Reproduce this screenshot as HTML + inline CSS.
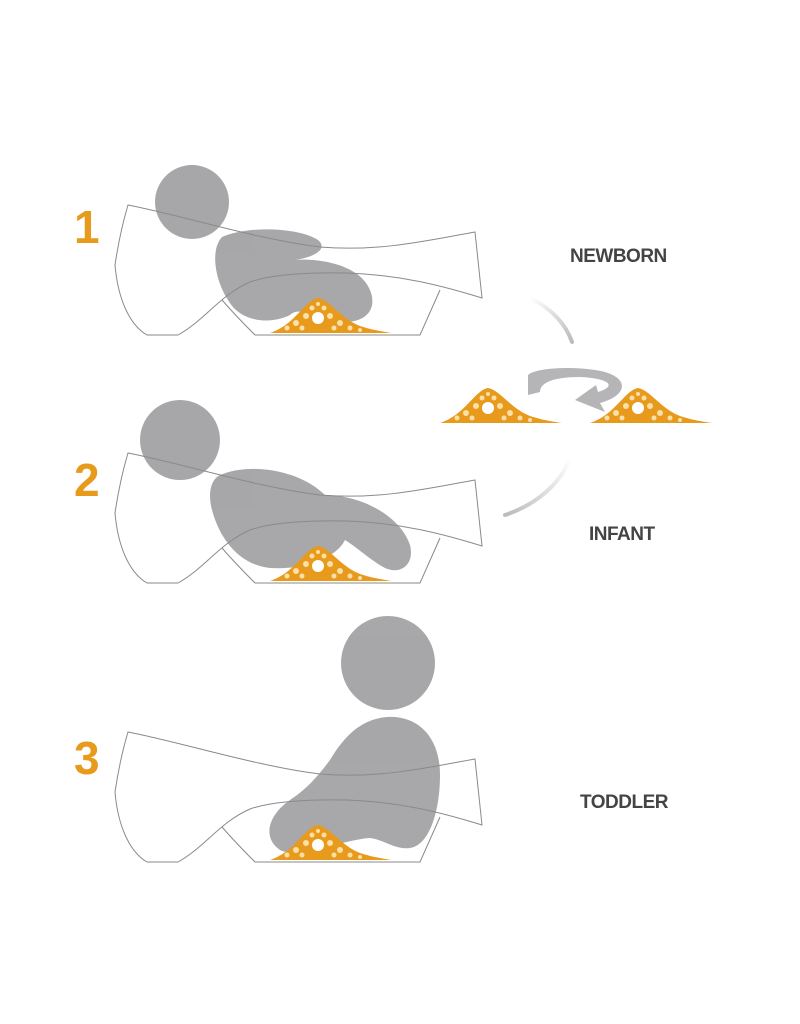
<!DOCTYPE html>
<html><head><meta charset="utf-8"><style>
html,body{margin:0;padding:0;background:#fff;}
svg{display:block}
text{font-family:"Liberation Sans",sans-serif;}
</style></head><body>
<svg width="800" height="1024" viewBox="0 0 800 1024" xmlns="http://www.w3.org/2000/svg">
<defs>
<g id="mound">
<path d="M270,333 C295,325 305,300 318,298 C330,300 340,318 360,326 C372,330 385,332 392,333 Z" fill="#e89a1c"/>
<g fill="#fbe0a8">
<circle cx="318" cy="318" r="6" fill="#fff"/>
<circle cx="306" cy="316" r="3"/><circle cx="330" cy="316" r="3"/>
<circle cx="312" cy="308" r="2.5"/><circle cx="324" cy="308" r="2.5"/><circle cx="318" cy="304" r="2"/>
<circle cx="296" cy="323" r="3"/><circle cx="340" cy="323" r="3"/>
<circle cx="287" cy="328" r="2.5"/><circle cx="350" cy="328" r="2.5"/><circle cx="360" cy="330" r="2"/>
<circle cx="302" cy="328" r="2.5"/><circle cx="334" cy="328" r="2.5"/>
</g>
</g>
<g id="tub" fill="none" stroke="#8a8a8a" stroke-width="1">
<path d="M128,205 C180,215 260,240 320,247 C380,252 430,240 475,232 L482,298 C440,285 400,275 347,273 C300,272 270,275 250,282 C220,295 205,320 178,335 L147,335 C130,325 118,300 115,265 C118,245 122,225 128,205 Z"/>
<path d="M222,300 C235,315 248,328 255,335 L420,335 L440,290"/>
</g>
<linearGradient id="ga" x1="0" y1="0" x2="1" y2="1"><stop offset="0" stop-color="#fff"/><stop offset="1" stop-color="#bbb"/></linearGradient>
<linearGradient id="gb" x1="1" y1="0" x2="0" y2="1"><stop offset="0" stop-color="#fff"/><stop offset="1" stop-color="#bbb"/></linearGradient>
</defs>

<!-- Section 1 -->
<text x="74" y="243" font-size="46" font-weight="bold" fill="#e89a1c">1</text>
<g fill="#a3a3a6" opacity="0.95">
<circle cx="192" cy="202" r="37"/>
<path d="M222,237 C250,225 300,228 318,240 C330,250 310,258 295,260 C320,258 360,265 370,290 C378,310 365,322 345,322 C320,320 300,305 290,315 C270,325 240,322 228,300 C215,280 210,250 222,237 Z"/>
</g>
<use href="#mound"/>
<use href="#tub"/>
<text x="570" y="262" font-size="19" font-weight="bold" fill="#444" letter-spacing="-0.5">NEWBORN</text>

<!-- Section 2 -->
<text x="74" y="496" font-size="46" font-weight="bold" fill="#e89a1c">2</text>
<g fill="#a3a3a6" opacity="0.95">
<circle cx="180" cy="440" r="40"/>
<path d="M220,475 C250,462 300,470 325,495 C360,495 400,515 410,545 C415,565 400,575 385,568 C370,560 358,548 345,540 C335,560 300,570 270,568 C240,565 220,540 212,510 C208,495 210,480 220,475 Z"/>
</g>
<use href="#mound" transform="translate(0,248)"/>
<use href="#tub" transform="translate(0,248)"/>
<text x="589" y="540" font-size="19" font-weight="bold" fill="#444" letter-spacing="-0.5">INFANT</text>

<!-- Section 3 -->
<text x="74" y="774" font-size="46" font-weight="bold" fill="#e89a1c">3</text>
<g fill="#a3a3a6" opacity="0.95">
<circle cx="388" cy="663" r="47"/>
<path d="M380,718 C410,712 440,730 440,775 C440,810 430,845 410,848 C395,850 385,840 370,838 C340,840 300,860 280,850 C262,838 268,815 290,800 C305,790 315,780 330,760 C345,735 360,722 380,718 Z"/>
</g>
<use href="#mound" transform="translate(0,527)"/>
<use href="#tub" transform="translate(0,527)"/>
<text x="580" y="808" font-size="19" font-weight="bold" fill="#444" letter-spacing="-0.5">TODDLER</text>

<!-- Middle rotation -->
<path d="M530,298 C550,308 565,322 572,342" stroke="url(#ga)" stroke-width="4" fill="none" stroke-linecap="round"/>
<path d="M570,458 C560,485 535,505 505,515" stroke="url(#gb)" stroke-width="4" fill="none" stroke-linecap="round"/>
<path d="M528,375 C535,368 570,366 595,370 C630,375 630,395 600,403 L605,412 L575,400 L596,385 L598,392 C620,385 605,378 580,377 C555,377 540,382 540,392 L528,395 Z" fill="#b5b5b8"/>
<use href="#mound" transform="translate(170,90)"/>
<use href="#mound" transform="translate(320,90)"/>
</svg>
</body></html>
